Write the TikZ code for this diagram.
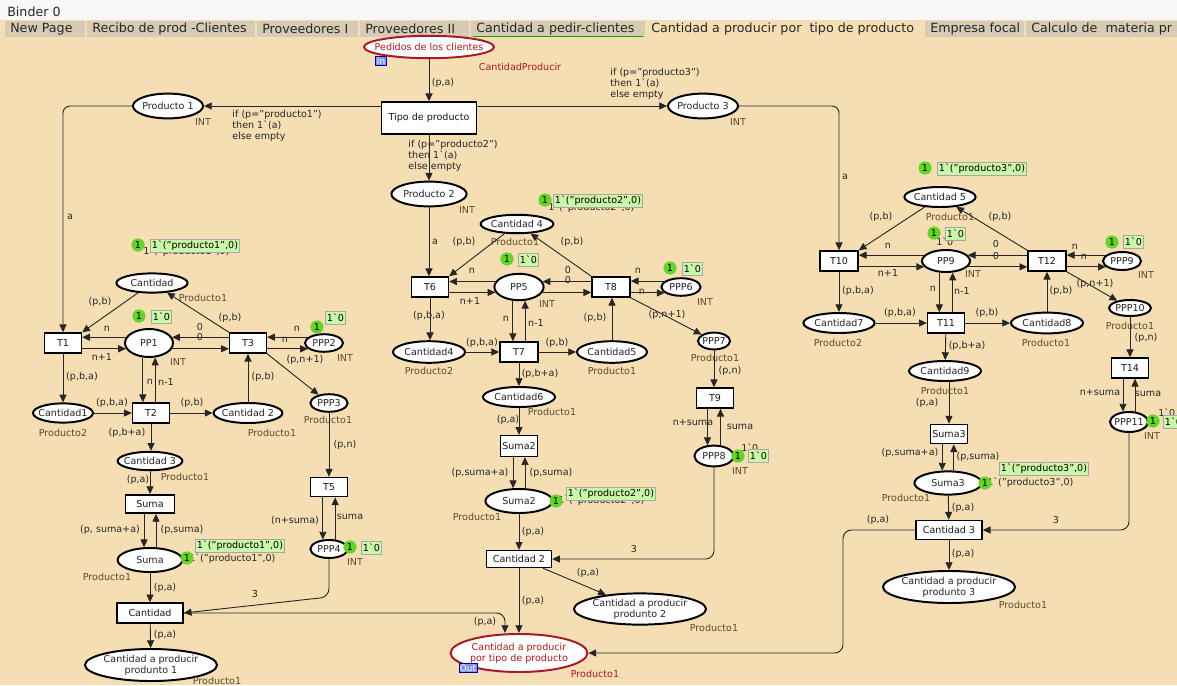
\documentclass[tikz,border=0pt]{standalone}
\usepackage{fontspec}
\setmainfont{DejaVu Sans}
\usepackage{tikz}
\usetikzlibrary{shapes.geometric,arrows.meta,calc,positioning}

\definecolor{canvas}{RGB}{245,222,180}
\definecolor{tabgray}{RGB}{215,203,181}
\definecolor{portred}{RGB}{170,25,35}
\definecolor{cstext}{RGB}{95,72,45}
\definecolor{tokgreen}{RGB}{100,212,40}
\definecolor{tokfill}{RGB}{202,248,168}
\definecolor{tagblue}{RGB}{125,150,235}

\newcommand{\netfont}{\fontsize{6.8}{7.8}\selectfont}
\newcommand{\tabfont}{\fontsize{9}{10.5}\selectfont}
\newcommand{\bq}{\textasciigrave}

% token marking: green count bullet plus the marking box
\newcommand{\tokmark}[4]{%
  \node[tokbox, anchor=west] (#1-m) at (#3) {#4};
  \node[tokn] (#1-n) at (#2) {1};
}

\tikzset{
  place/.style={draw, ellipse, line width=1.4pt, fill=white, inner sep=0pt,
    minimum width=#1, minimum height=0.5cm},
  place/.default=1.8cm,
  ptext/.style={font=\netfont, inner sep=0pt, align=center, text=black!85},
  ptxt/.style={label={[ptext]center:#1}},
  portxt/.style={label={[ptext, text=portred]center:#1}},
  trans/.style={draw, line width=1.1pt, fill=white, inner sep=1pt,
    minimum width=0.92cm, minimum height=0.5cm, font=\netfont, text=black!90},
  arc/.style={draw=black!85, line width=0.65pt,
    -{Triangle[length=5.5pt,width=5pt]}},
  lbl/.style={font=\netfont, inner sep=0pt, text=black!85},
  cs/.style={font=\netfont, inner sep=0pt, text=cstext},
  tokn/.style={circle, fill=tokgreen, inner sep=0pt, minimum size=0.33cm, font=\netfont},
  tokbox/.style={draw=black!35, fill=tokfill, inner sep=1.2pt, minimum height=0.32cm, font=\netfont},
  tag/.style={draw=blue!60!black, fill=tagblue, text=white, inner sep=0.8pt,
    font=\fontsize{6.3}{6.5}\selectfont},
  tabtext/.style={font=\tabfont, inner sep=0pt, anchor=west, text=black!85}
}

\begin{document}
\begin{tikzpicture}[x=0.025cm, y=-0.025cm]
\useasboundingbox (0,0) rectangle (1177,685);

% window: binder title, page tabs and the sheet
\fill[white!97!black] (0,0) rectangle (1177,20);
\fill[canvas] (0,20) rectangle (1177,685);
\node[tabtext] (binder) at (7,12) {Binder 0};
\foreach \xa/\xb/\txt [count=\k] in {5/85/New Page, 87/255/Recibo de prod -Clientes,
    257/358/Proveedores I, 360/469/Proveedores II, 471/645/Cantidad a pedir-clientes,
    925/1024/Empresa focal, 1026/1185/Calculo de\ \ materia pr} {
  \fill[tabgray] (\xa,21) rectangle (\xb,37);
  \node[tabtext] (tab\k) at (\xa+5,29) {\txt};
}
\draw[green!65!black, line width=0.5pt] (473,36.5) -- (643,36.5);
\node[tabtext] (tabcur) at (651,29) {Cantidad a producir por\ \ tipo de producto};

% input port and split by product
\node[place=3.25cm, minimum height=0.56cm, draw=portred, portxt=Pedidos de los clientes] (pedidos) at (429,47) {};
\node[tag] (pedidos-tag) at (381,61) {In};
\node[cs, text=portred] (pedidos-cs) at (520,67) {CantidadProducir};
\node[trans, minimum width=2.38cm, minimum height=0.8cm] (tipo) at (429,118) {Tipo de producto};
\node[place=1.75cm, minimum height=0.62cm, ptxt=Producto 1] (prod1) at (168,106) {};
\node[place=1.88cm, minimum height=0.62cm, ptxt=Producto 2] (prod2) at (429,194) {};
\node[place=1.75cm, minimum height=0.62cm, ptxt=Producto 3] (prod3) at (703,106) {};
\node[cs] (prod1-cs) at (203,122) {INT};
\node[cs] (prod2-cs) at (467,210) {INT};
\node[cs] (prod3-cs) at (738,122) {INT};

% product 1
\node[place=1.78cm, minimum height=0.48cm, ptxt=Cantidad] (cantA) at (152,283) {};
\node[trans] (t1) at (63,343) {T1};
\node[place=1.2cm, minimum height=0.7cm, ptxt=PP1] (pp1) at (149,343) {};
\node[trans] (t3) at (248,343) {T3};
\node[place=0.95cm, minimum height=0.44cm, ptxt=PPP2] (ppp2) at (324,343) {};
\node[place=1.5cm, minimum height=0.48cm, ptxt=Cantidad1] (cant1) at (63,413) {};
\node[trans] (t2) at (151,413) {T2};
\node[place=1.72cm, ptxt=Cantidad 2] (cant2) at (248,413) {};
\node[place=0.93cm, minimum height=0.44cm, ptxt=PPP3] (ppp3) at (329,403) {};
\node[place=1.62cm, minimum height=0.46cm, ptxt=Cantidad 3] (cant3) at (150,461) {};
\node[trans, minimum width=1.22cm, minimum height=0.46cm] (suma1) at (150,504) {Suma};
\node[trans, minimum height=0.48cm] (t5) at (329,487) {T5};
\node[place=1.62cm, minimum height=0.6cm, ptxt=Suma] (sumap1) at (150,560) {};
\node[place=0.93cm, minimum height=0.45cm, ptxt=PPP4] (ppp4) at (329,549) {};
\node[trans, minimum width=1.65cm, minimum height=0.5cm] (cantt1) at (150,613) {Cantidad};
\node[place=3.3cm, minimum height=0.8cm, ptxt={Cantidad a producir\\produnto 1}] (res1) at (151,665) {};

\node[cs] (cantA-cs) at (203,298) {Producto1};
\node[cs] (pp1-cs) at (178,362) {INT};
\node[cs] (ppp2-cs) at (345,358) {INT};
\node[cs] (cant1-cs) at (63,433) {Producto2};
\node[cs] (cant2-cs) at (272,433) {Producto1};
\node[cs] (ppp3-cs) at (328,420) {Producto1};
\node[cs] (cant3-cs) at (185,477) {Producto1};
\node[cs] (sumap1-cs) at (107,577) {Producto1};
\node[cs] (ppp4-cs) at (355,562) {INT};
\node[cs] (res1-cs) at (217,681) {Producto1};

% product 2
\node[place=1.82cm, minimum height=0.46cm, ptxt=Cantidad 4] (cantB) at (517,224) {};
\node[trans] (t6) at (430,287) {T6};
\node[place=1.23cm, minimum height=0.66cm, ptxt=PP5] (pp5) at (519,287) {};
\node[trans, minimum width=0.95cm] (t8) at (611,287) {T8};
\node[place=0.98cm, minimum height=0.44cm, ptxt=PPP6] (ppp6) at (681,287) {};
\node[place=1.8cm, minimum height=0.54cm, ptxt=Cantidad4] (cant4) at (429,352) {};
\node[trans, minimum width=0.95cm] (t7) at (519,352) {T7};
\node[place=1.75cm, minimum height=0.54cm, ptxt=Cantidad5] (cant5) at (612,352) {};
\node[place=0.8cm, minimum height=0.42cm, ptxt=PPP7] (ppp7) at (714,341) {};
\node[place=1.8cm, ptxt=Cantidad6] (cant6) at (519,397) {};
\node[trans] (t9) at (715,398) {T9};
\node[trans, minimum height=0.52cm] (suma2) at (519,446) {Suma2};
\node[place=0.98cm, minimum height=0.52cm, ptxt=PPP8] (ppp8) at (714,456) {};
\node[place=1.68cm, minimum height=0.6cm, ptxt=Suma2] (sumap2) at (519,501) {};
\node[trans, minimum width=1.62cm, minimum height=0.42cm] (cantt2) at (519,559) {Cantidad 2};
\node[place=3.3cm, minimum height=0.78cm, ptxt={Cantidad a producir\\produnto 2}] (res2) at (640,609) {};
\node[place=3.42cm, minimum height=0.95cm, draw=portred, portxt={Cantidad a producir\\por tipo de producto}] (outp) at (519,653) {};
\node[tag] (outp-tag) at (468,668) {Out};

\node[cs] (cantB-cs) at (515,242) {Producto1};
\node[cs] (pp5-cs) at (547,304) {INT};
\node[cs] (ppp6-cs) at (705,302) {INT};
\node[cs] (cant4-cs) at (429,371) {Producto2};
\node[cs] (cant5-cs) at (612,371) {Producto1};
\node[cs] (cant6-cs) at (552,412) {Producto1};
\node[cs] (ppp7-cs) at (715,358) {Producto1};
\node[cs] (ppp8-cs) at (740,471) {INT};
\node[cs] (sumap2-cs) at (477,517) {Producto1};
\node[cs] (res2-cs) at (714,628) {Producto1};
\node[cs, text=portred] (outp-cs) at (595,674) {Producto1};

% product 3
\node[place=1.78cm, minimum height=0.5cm, ptxt=Cantidad 5] (cantC) at (940,197) {};
\node[trans, minimum width=0.95cm] (t10) at (839,261) {T10};
\node[place=1.2cm, minimum height=0.55cm, ptxt=PP9] (pp9) at (946,261) {};
\node[trans, minimum width=0.95cm] (t12) at (1047,261) {T12};
\node[place=0.95cm, minimum height=0.45cm, ptxt=PPP9] (ppp9) at (1122,261) {};
\node[place=1.78cm, ptxt=Cantidad7] (cant7) at (839,323) {};
\node[trans] (t11) at (946,323) {T11};
\node[place=1.8cm, minimum height=0.52cm, ptxt=Cantidad8] (cant8) at (1047,323) {};
\node[place=1.05cm, minimum height=0.4cm, ptxt=PPP10] (ppp10) at (1130,308) {};
\node[place=1.8cm, ptxt=Cantidad9] (cant9) at (945,371) {};
\node[trans] (t14) at (1130,368) {T14};
\node[trans, minimum height=0.48cm] (suma3) at (949,434) {Suma3};
\node[place=0.95cm, minimum height=0.5cm, ptxt=PPP11] (ppp11) at (1129,422) {};
\node[place=1.68cm, minimum height=0.58cm, ptxt=Suma3] (sumap3) at (948,483) {};
\node[trans, minimum width=1.65cm, minimum height=0.48cm] (cantt3) at (949,530) {Cantidad 3};
\node[place=3.3cm, minimum height=0.8cm, ptxt={Cantidad a producir\\produnto 3}] (res3) at (949,587) {};

\node[cs] (cantC-cs) at (950,217) {Producto1};
\node[cs] (pp9-cs) at (973,274) {INT};
\node[cs] (ppp9-cs) at (1146,275) {INT};
\node[cs] (cant7-cs) at (838,343) {Producto2};
\node[cs] (cant8-cs) at (1046,343) {Producto1};
\node[cs] (ppp10-cs) at (1130,326) {Producto1};
\node[cs] (cant9-cs) at (945,391) {Producto1};
\node[cs] (sumap3-cs) at (906,498) {Producto1};
\node[cs] (ppp11-cs) at (1152,436) {INT};
\node[cs] (res3-cs) at (1023,605) {Producto1};

% routing by product
\draw[arc] (pedidos) -- (tipo) node[lbl] at (443,83) {(p,a)};
\draw[arc] (tipo.west |- prod1) -- (prod1)
  node[lbl, align=left, anchor=north west] at (232,110) {if (p="producto1")\\then 1\bq(a)\\else empty};
\draw[arc] (tipo.east |- prod3) -- (prod3)
  node[lbl, align=left, anchor=north west] at (610,68) {if (p="producto3")\\then 1\bq(a)\\else empty};
\draw[arc] (tipo) -- (prod2)
  node[lbl, align=left, anchor=north west] at (408,140) {if (p="producto2")\\then 1\bq(a)\\else empty};
\draw[arc, rounded corners=5pt] (prod1.west) -| (t1.north) node[lbl] at (70,217) {a};
\draw[arc, rounded corners=5pt] (prod3.east) -| (t10.north) node[lbl] at (845,177) {a};
\draw[arc] (prod2) -- (prod2 |- t6.north) node[lbl] at (435,242) {a};

% product 1 arcs
\draw[arc] (cantA) -- (t1.north east) node[lbl] at (100,302) {(p,b)};
\draw[arc] (t3.north west) -- (cantA) node[lbl] at (230,318) {(p,b)};
\draw[arc] (pp1.166) -- (t1.east |- pp1.166) node[lbl] at (107,329) {n};
\draw[arc] (t1.east |- pp1.194) -- (pp1.194) node[lbl] at (102,357) {n+1};
\draw[arc] (t3.west |- pp1.14) -- (pp1.14) node[lbl] at (200,327) {0};
\draw[arc] (pp1.346) -- (t3.west |- pp1.346) node[lbl] at (200,337) {0};
\draw[arc] (ppp2.160) -- (t3.east |- ppp2.160) node[lbl] at (297,329) {n};
\draw[arc] (t3.east |- ppp2.200) -- (ppp2.200) node[lbl] at (285,340) {n};
\draw[arc] (pp1.247) -- (pp1.247 |- t2.north) node[lbl] at (150,382) {n};
\draw[arc] (t2.north -| pp1.293) -- (pp1.293) node[lbl] at (166,382) {n-1};
\draw[arc] (t1) -- (cant1) node[lbl] at (82,377) {(p,b,a)};
\draw[arc] (cant1) -- (t2) node[lbl] at (112,403) {(p,b,a)};
\draw[arc] (t2) -- (cant2) node[lbl] at (192,403) {(p,b)};
\draw[arc] (cant2) -- (cant2 |- t3.south) node[lbl] at (263,377) {(p,b)};
\draw[arc] (t3.south east) -- (ppp3) node[lbl] at (305,360) {(p,n+1)};
\draw[arc] (t2) -- (t2 |- cant3.north) node[lbl] at (127,433) {(p,b+a)};
\draw[arc] (cant3) -- (suma1) node[lbl] at (138,480) {(p,a)};
\draw[arc] (suma1.south -| sumap1.115) -- (sumap1.115) node[lbl] at (110,530) {(p, suma+a)};
\draw[arc] (sumap1.65) -- (sumap1.65 |- suma1.south) node[lbl] at (182,530) {(p,suma)};
\draw[arc] (sumap1) -- (cantt1) node[lbl] at (165,588) {(p,a)};
\draw[arc] (cantt1) -- (res1) node[lbl] at (165,635) {(p,a)};
\draw[arc] (ppp3) -- (ppp3 |- t5.north) node[lbl] at (345,445) {(p,n)};
\draw[arc] (t5.south -| ppp4.123) -- (ppp4.123) node[lbl] at (295,520) {(n+suma)};
\draw[arc] (ppp4.57) -- (ppp4.57 |- t5.south) node[lbl] at (350,517) {suma};
\draw[arc, rounded corners=6pt] (ppp4.south) -- ++(0,38) -- (cantt1.east) node[lbl] at (255,594) {3};
\draw[arc, rounded corners=6pt] (cantt1.east) -| ($(outp.north)+(-14,0)$) node[lbl] at (485,622) {(p,a)};

% product 2 arcs
\draw[arc] (cantB) -- (t6.north east) node[lbl] at (464,242) {(p,b)};
\draw[arc] (t8.north west) -- (cantB) node[lbl] at (572,242) {(p,b)};
\draw[arc] (pp5.167) -- (t6.east |- pp5.167) node[lbl] at (472,271) {n};
\draw[arc] (t6.east |- pp5.193) -- (pp5.193) node[lbl] at (470,301) {n+1};
\draw[arc] (t8.west |- pp5.13) -- (pp5.13) node[lbl] at (568,270) {0};
\draw[arc] (pp5.347) -- (t8.west |- pp5.347) node[lbl] at (568,280) {0};
\draw[arc] (ppp6.160) -- (t8.east |- ppp6.160) node[lbl] at (638,271) {n};
\draw[arc] (t8.east |- ppp6.200) -- (ppp6.200) node[lbl] at (642,292) {n};
\draw[arc] (pp5.246) -- (pp5.246 |- t7.north) node[lbl] at (506,319) {n};
\draw[arc] (t7.north -| pp5.294) -- (pp5.294) node[lbl] at (536,323) {n-1};
\draw[arc] (t6) -- (t6 |- cant4.north) node[lbl] at (429,316) {(p,b,a)};
\draw[arc] (cant4) -- (t7) node[lbl] at (482,343) {(p,b,a)};
\draw[arc] (t7) -- (cant5) node[lbl] at (557,343) {(p,b)};
\draw[arc] (cant5) -- (cant5 |- t8.south) node[lbl] at (595,318) {(p,b)};
\draw[arc] (t8.south east) -- (ppp7) node[lbl] at (667,315) {(p,n+1)};
\draw[arc] (ppp7) -- (ppp7 |- t9.north) node[lbl] at (730,371) {(p,n)};
\draw[arc] (t9.south -| ppp8.121) -- (ppp8.121) node[lbl] at (693,423) {n+suma};
\draw[arc] (ppp8.59) -- (ppp8.59 |- t9.south) node[lbl] at (740,427) {suma};
\draw[arc] (t7) -- (cant6) node[lbl] at (540,374) {(p,b+a)};
\draw[arc] (cant6) -- (suma2) node[lbl] at (508,420) {(p,a)};
\draw[arc] (suma2.south -| sumap2.115) -- (sumap2.115) node[lbl] at (480,473) {(p,suma+a)};
\draw[arc] (sumap2.65) -- (sumap2.65 |- suma2.south) node[lbl] at (551,473) {(p,suma)};
\draw[arc] (sumap2) -- (cantt2) node[lbl] at (533,532) {(p,a)};
\draw[arc, rounded corners=6pt] (ppp8.south) |- (cantt2.east) node[lbl] at (634,549) {3};
\draw[arc] (cantt2.339) -- (res2) node[lbl] at (588,573) {(p,a)};
\draw[arc] (cantt2) -- (outp) node[lbl] at (533,601) {(p,a)};

% product 3 arcs
\draw[arc] (cantC) -- (t10.north east) node[lbl] at (881,217) {(p,b)};
\draw[arc] (t12.north west) -- (cantC) node[lbl] at (1000,217) {(p,b)};
\draw[arc] (pp9.165) -- (t10.east |- pp9.165) node[lbl] at (888,246) {n};
\draw[arc] (t10.east |- pp9.195) -- (pp9.195) node[lbl] at (888,273) {n+1};
\draw[arc] (t12.west |- pp9.15) -- (pp9.15) node[lbl] at (996,244) {0};
\draw[arc] (pp9.345) -- (t12.west |- pp9.345) node[lbl] at (996,256) {0};
\draw[arc] (ppp9.160) -- (t12.east |- ppp9.160) node[lbl] at (1075,247) {n};
\draw[arc] (t12.east |- ppp9.200) -- (ppp9.200) node[lbl] at (1084,257) {n};
\draw[arc] (pp9.240) -- (pp9.240 |- t11.north) node[lbl] at (933,289) {n};
\draw[arc] (t11.north -| pp9.300) -- (pp9.300) node[lbl] at (962,291) {n-1};
\draw[arc] (t10) -- (t10 |- cant7.north) node[lbl] at (858,291) {(p,b,a)};
\draw[arc] (cant7) -- (t11) node[lbl] at (900,313) {(p,b,a)};
\draw[arc] (t11) -- (cant8) node[lbl] at (987,313) {(p,b)};
\draw[arc] (cant8) -- (cant8 |- t12.south) node[lbl] at (1061,291) {(p,b)};
\draw[arc] (t12.south east) -- (ppp10) node[lbl] at (1095,284) {(p,n+1)};
\draw[arc] (ppp10) -- (ppp10 |- t14.north) node[lbl] at (1146,338) {(p,n)};
\draw[arc] (t14.south -| ppp11.120) -- (ppp11.120) node[lbl] at (1100,393) {n+suma};
\draw[arc] (ppp11.60) -- (ppp11.60 |- t14.south) node[lbl] at (1148,394) {suma};
\draw[arc] (t11) -- (cant9) node[lbl] at (967,346) {(p,b+a)};
\draw[arc] (suma3 |- cant9.south) -- (suma3.north) node[lbl] at (927,403) {(p,a)};
\draw[arc] (suma3.south -| sumap3.115) -- (sumap3.115) node[lbl] at (910,453) {(p,suma+a)};
\draw[arc] (sumap3.65) -- (sumap3.65 |- suma3.south) node[lbl] at (978,457) {(p,suma)};
\draw[arc] (sumap3) -- (cantt3) node[lbl] at (963,508) {(p,a)};
\draw[arc] (cantt3) -- (res3) node[lbl] at (963,554) {(p,a)};
\draw[arc, rounded corners=6pt] (ppp11.south) |- (cantt3.east) node[lbl] at (1056,520) {3};
\coordinate (outbend) at (843,653);
\draw[arc, rounded corners=6pt] (cantt3.west) -| (outbend) -- (outp.east) node[lbl] at (878,520) {(p,a)};

% initial markings
\node[lbl, anchor=west] (cantA-old) at (143,252) {1\bq("producto1",0)};
\tokmark{cantA}{138,245}{150,246}{1\bq("producto1",0)}
\tokmark{pp1}{139,316}{151,316.5}{1\bq0}
\tokmark{ppp2}{317,327}{325,318}{1\bq0}
\node[lbl, anchor=west] (sumap1-old) at (189,559) {1\bq("producto1",0)};
\tokmark{sumap1}{187,558}{195,546}{1\bq("producto1",0)}
\tokmark{ppp4}{350,547}{361,547.5}{1\bq0}
\node[lbl, anchor=west] (cantB-old) at (548,208) {1\bq("producto2",0)};
\tokmark{cantB}{545,200}{553,200.5}{1\bq("producto2",0)}
\tokmark{pp5}{507,259}{518,259.5}{1\bq0}
\tokmark{ppp6}{670,268}{682,269}{1\bq0}
\node[lbl, anchor=west] (sumap2-old) at (558,501) {1\bq("producto2",0)};
\tokmark{sumap2}{556,501}{566,493.5}{1\bq("producto2",0)}
\node[lbl, anchor=west] (ppp8-old) at (741,448) {1\bq0};
\tokmark{ppp8}{738,456}{748,456}{1\bq0}
\tokmark{cantC}{925,168}{937,169}{1\bq("producto3",0)}
\node[lbl, anchor=west] (pp9-old) at (936,242) {1\bq0};
\tokmark{pp9}{934,233}{945,233.5}{1\bq0}
\tokmark{ppp9}{1112,242}{1123,242}{1\bq0}
\node[lbl, anchor=west] (sumap3-old) at (987,483) {1\bq("producto3",0)};
\tokmark{sumap3}{985,483}{999,469}{1\bq("producto3",0)}
\node[lbl, anchor=west] (ppp11-old) at (1158,413) {1\bq0};
\tokmark{ppp11}{1153,421}{1163,421.5}{1\bq0}
\end{tikzpicture}
\end{document}
